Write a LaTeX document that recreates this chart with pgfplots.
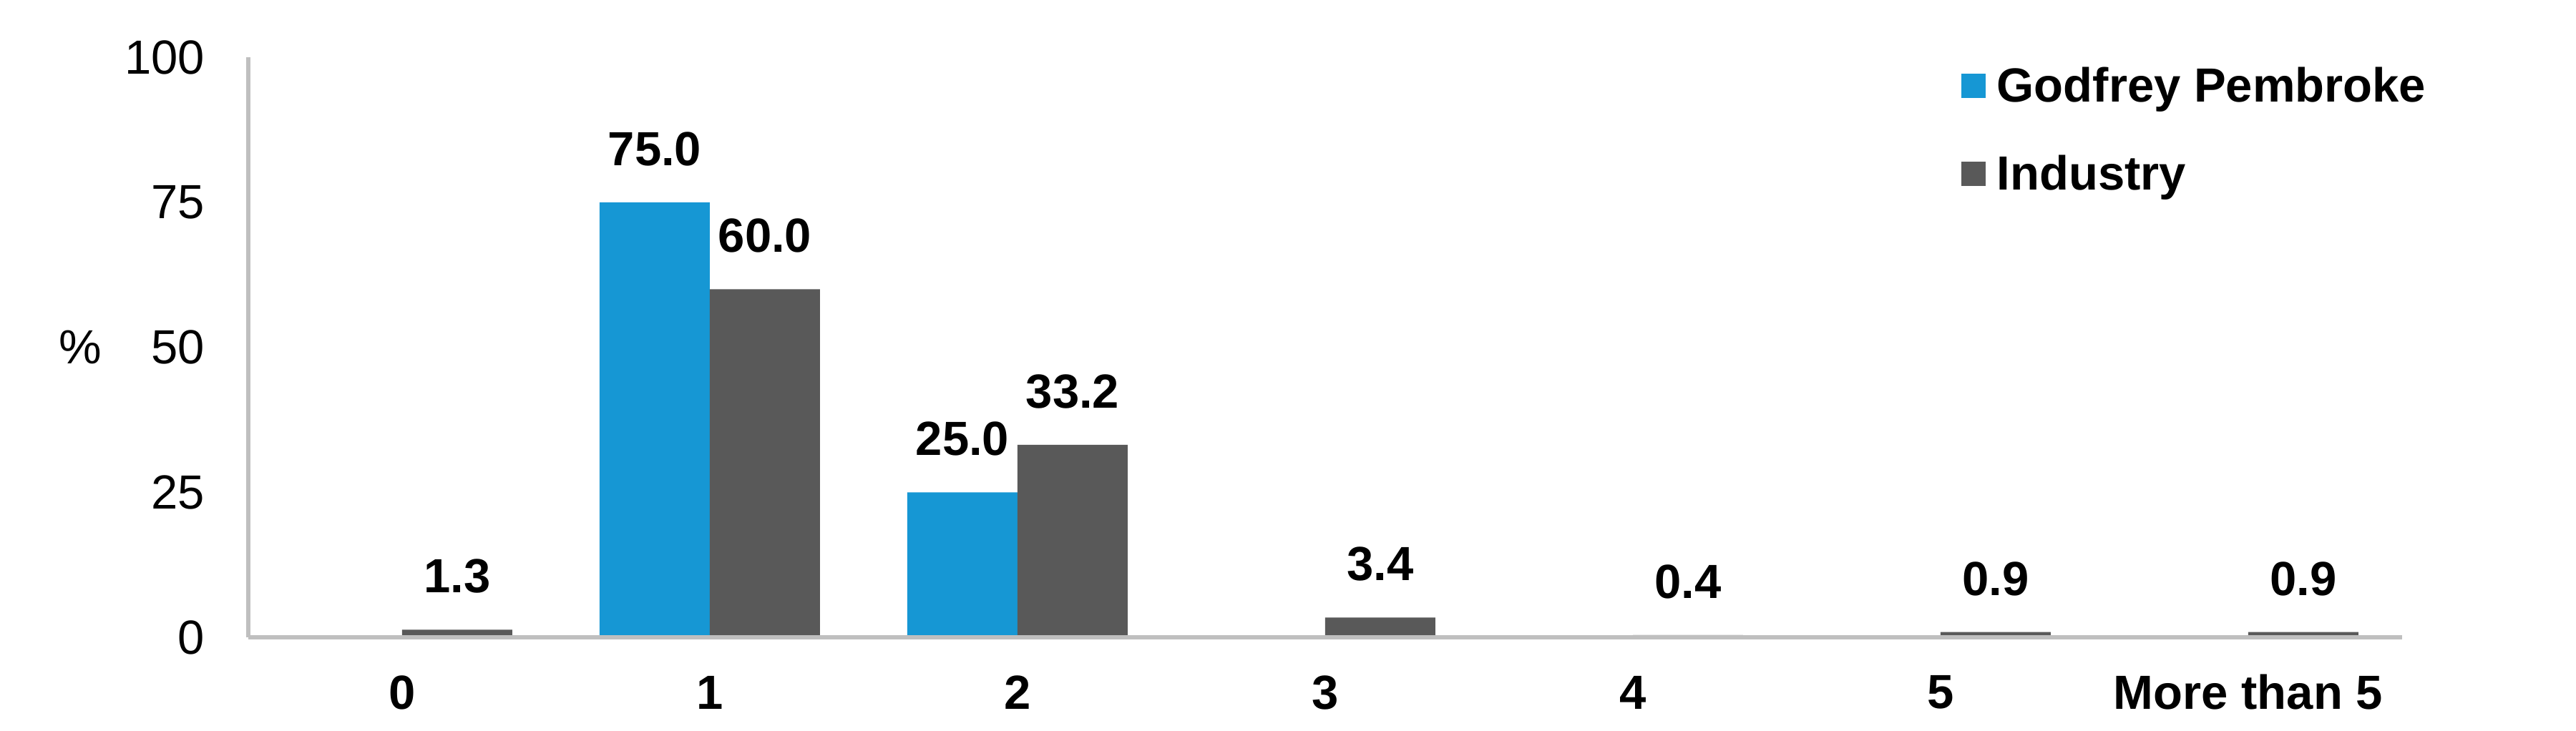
\documentclass[border=0pt]{standalone}
\usepackage{pgfplots}
\pgfplotsset{compat=1.18}
\usepackage{pgfplotstable}
\usepackage{fontspec}
\setmainfont{Liberation Sans}
\definecolor{gpblue}{RGB}{22,151,212}
\definecolor{indgray}{RGB}{89,89,89}
\definecolor{axgray}{RGB}{191,191,191}

\pgfplotstableread{
x v
1 75.0
2 25.0
}\blue
\pgfplotstableread{
x v
0 1.3
1 60.0
2 33.2
3 3.4
4 0.4
5 0.9
6 0.9
}\gray
\pgfplotstableread{
x y l
0.821 84.2 75.0
1.179 69.2 60.0
1.821 34.2 25.0
2.179 42.4 33.2
0.179 10.5 1.3
3.179 12.6 3.4
4.179 9.6 0.4
5.179 10.1 0.9
6.179 10.1 0.9
}\labels

\begin{document}
\begin{tikzpicture}
\path[use as bounding box] (-69.4pt,-26.0pt) rectangle (650.6pt,178.2pt);
\begin{axis}[
  at={(0,0)}, anchor=south west,
  scale only axis,
  width=602pt, height=162.2pt,
  xmin=-0.5, xmax=6.5, ymin=0, ymax=100,
  axis lines=left,
  axis on top=true,
  axis line style={-, draw=axgray, line width=1.2pt},
  major tick length=0pt,
  xtick={0,1,2,3,4,5,6},
  xticklabels={0,1,2,3,4,5,More than 5},
  ytick={0,25,50,75,100},
  /pgf/number format/assume math mode=true,
  xticklabel style={font=\bfseries\fontsize{13.4}{16}\selectfont, anchor=center, yshift=-15.4pt, inner sep=0pt},
  yticklabel style={font=\fontsize{13.4}{16}\selectfont, anchor=east, xshift=-12pt, inner sep=0pt},
  ylabel={\%},
  every axis y label/.style={at={(axis description cs:-0.0781,0.5)}, anchor=center, font=\fontsize{13.4}{16}\selectfont},
  clip=false,
  legend style={at={(0.7953,0.9827)}, anchor=north west, draw=none, fill=none,
    inner sep=0pt, outer sep=0pt, font=\bfseries\fontsize{13.4}{16}\selectfont,
    row sep=12.2pt, column sep=3.2pt,
    nodes={inner sep=0pt, text height=9.6pt, text depth=2.8pt}},
  legend cell align=left,
  legend image code/.code={\fill[#1] (0pt,-2.4pt) rectangle (6.8pt,4.4pt);},
]
\addplot[ybar, bar width=30.8pt, bar shift=-15.4pt, fill=gpblue, draw=none] table[x=x,y=v] {\blue};
\addlegendentry{Godfrey Pembroke}
\addplot[ybar, bar width=30.8pt, bar shift=15.4pt, fill=indgray, draw=none] table[x=x,y=v] {\gray};
\addlegendentry{Industry}
\addplot[forget plot, draw=none, mark=none, nodes near coords, point meta=explicit symbolic,
  every node near coord/.style={anchor=center, inner sep=0pt, font=\bfseries\fontsize{13.4}{16}\selectfont}]
  table[x=x,y=y,meta=l] {\labels};
\end{axis}
\end{tikzpicture}
\end{document}
